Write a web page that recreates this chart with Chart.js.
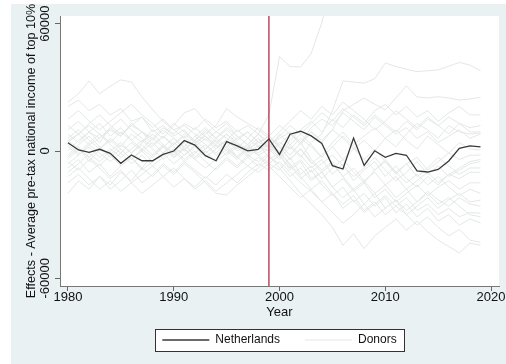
<!DOCTYPE html>
<html>
<head>
<meta charset="utf-8">
<script src="https://cdn.jsdelivr.net/npm/chart.js@4/dist/chart.umd.min.js"></script>
<style>
  html, body { margin: 0; padding: 0; background: #ffffff; }
  #wrap { width: 506px; height: 364px; position: relative; background: #ffffff; }
  #graphRegion { position: absolute; left: 11px; top: 4px; right: 0; bottom: 0; background: #e9f1f3; }
  #c { position: absolute; left: 0; top: 0; }
</style>
</head>
<body>
<div id="wrap"><div id="graphRegion"></div><canvas id="c" width="506" height="364"></canvas></div>
<script>
// Years on the horizontal axis
const years = [
  1980, 1981, 1982, 1983, 1984, 1985, 1986, 1987, 1988, 1989,
  1990, 1991, 1992, 1993, 1994, 1995, 1996, 1997, 1998, 1999,
  2000, 2001, 2002, 2003, 2004, 2005, 2006, 2007, 2008, 2009,
  2010, 2011, 2012, 2013, 2014, 2015, 2016, 2017, 2018, 2019
];
const xTickValues = [1980, 1990, 2000, 2010, 2020];
const yTickValues = [-60000, 0, 60000];
const treatYear = 1999;
const yMin = -63600;
const yMax = 63600;

// Estimated effect for the treated unit
const netherlands = [
  3900, 500, -600, 800, -1100, -5800, -1900, -4600, -4600, -1600,
  0, 4900, 2800, -2200, -4600, 4400, 2400, 100, 800, 5700,
  -1600, 7900, 9300, 7100, 3600, -6900, -8500, 6100, -6800, 100,
  -3000, -1100, -2000, -9400, -9900, -8700, -4700, 1300, 2400, 1900
];

// Placebo effects for the donor pool
const d1 = [
  23000, 27000, 33000, 27000, 30500, 33500, 32500, 25500, 19500, 14000,
  10000, 12000, 8000, 5000, 9000, 6000, 3000, 1000, 4000, 2000,
  6000, 9000, 4000, 11000, 15000, 12000, 18000, 14000, 10000, 16000,
  12000, 8000, 11000, 6000, 9000, 4000, 7000, 10000, 6000, 8000
];
const d2 = [
  21000, 24000, 19000, 22000, 17000, 20000, 14000, 16000, 9000, 12000,
  7000, 10000, 4000, 7000, 2000, 5000, 0, 3000, -2000, 1000,
  -4000, 2000, -3000, 4000, 8000, 19000, 33000, 32500, 32000, 34000,
  41500, 39800, 38500, 37400, 37800, 38200, 40000, 41700, 40500, 37800
];
const d3 = [
  5000, 8000, 3000, 6000, 10000, 7000, 12000, 9000, 6000, 11000,
  8000, 13000, 10000, 15000, 11000, 14000, 9000, 12000, 8000, 17000,
  44500, 39800, 39600, 46000, 60500, 80000, 95000, 108000, 120000, 130000,
  140000, 150000, 155000, 160000, 165000, 170000, 175000, 180000, 185000, 190000
];
const d4 = [
  -4000, 1000, -3000, -7000, -2000, 3000, -1000, 4000, 8000, 3000,
  -2000, 2000, 7000, 11000, 6000, 10000, 5000, 9000, 4000, 7000,
  3000, 8000, 4000, 9000, 5000, 10000, 19000, 22000, 25000, 22000,
  19400, 25000, 30700, 25500, 25000, 25600, 25000, 24000, 24500, 25300
];
const d5 = [
  -3000, 2000, -5000, 1000, 6000, 2000, 8000, 4000, 10000, 6000,
  12000, 18000, 20000, 14000, 9000, 13000, 7000, 3000, 8000, 2000,
  -3000, 5000, 10000, 14000, 9000, 15000, 11000, 17000, 13000, 19000,
  22000, 17000, 21000, 16000, 19000, 14000, 18000, 21000, 17000, 17000
];
const d6 = [
  8000, 4000, 9000, 13000, 7000, 11000, 5000, 9000, 3000, 7000,
  2000, -2000, 3000, 8000, 12000, 20000, 16000, 13000, 10000, 6000,
  2000, -4000, 1000, -6000, -2000, 4000, 9000, 3000, 7000, 11000,
  6000, 2000, 8000, 13000, 10000, 6000, 12000, 9000, 8000, 8500
];
const d7 = [
  -8000, -4000, -10000, -6000, -12000, -7000, -3000, -8000, -2000, 3000,
  -1000, 4000, -3000, 1000, 5000, 0, -4000, 1000, -2000, -6000,
  -9000, -3000, -11000, -7000, -13000, -8000, -4000, -10000, -15000, -9000,
  -5000, -11000, -6000, -3000, -9000, -5000, -1000, -4000, -2000, -1900
];
const d8 = [
  0, 5000, 9000, 4000, 11000, 7000, 13000, 9000, 5000, 10000,
  6000, 2000, 7000, 3000, -1000, 4000, -3000, 2000, 6000, 1000,
  8000, 3000, -2000, -8000, -4000, -11000, -6000, -14000, -9000, -5000,
  -12000, -7000, -13000, -17000, -12000, -16000, -11000, -8000, -5000, -4000
];
const d9 = [
  -15000, -11000, -16000, -12000, -18000, -14000, -9000, -15000, -11000, -6000,
  -10000, -5000, -9000, -13000, -8000, -3000, -7000, -2000, -5000, -1000,
  3000, -2000, 4000, -4000, -9000, -5000, -12000, -8000, -14000, -10000,
  -16000, -12000, -18000, -14000, -10000, -15000, -11000, -13000, -10000, -10000
];
const d10 = [
  5000, 1000, -3000, 2000, -2000, -7000, -3000, -9000, -5000, -1000,
  -6000, -2000, 2000, -3000, 1000, 5000, 1000, 6000, 2000, 4000,
  -2000, -9000, -5000, -13000, -10000, -17000, -13000, -19000, -15000, -22000,
  -18000, -24000, -20000, -16000, -21000, -17000, -14000, -18000, -15000, -15000
];
const d11 = [
  2000, -2000, 3000, -1000, -5000, -1000, -6000, -2000, -7000, -3000,
  1000, -4000, 0, -5000, -9000, -4000, -8000, -3000, -7000, -2000,
  -8000, -14000, -20000, -25000, -30000, -36000, -44400, -39000, -46000, -40000,
  -36000, -32000, -37300, -33000, -38000, -42000, -45000, -48000, -43400, -44400
];
const d12 = [
  -20000, -14000, -18000, -12000, -16000, -10000, -14000, -8000, -12000, -7000,
  -11000, -6000, -10000, -15000, -20000, -20700, -16000, -12000, -8000, -4000,
  -1000, -6000, -12000, -18000, -14000, -20000, -25000, -21000, -28000, -24000,
  -30000, -26000, -22000, -28000, -25000, -30000, -27000, -31000, -29000, -29300
];
const d13 = [
  10000, 14000, 9000, 6000, 11000, 15000, 10000, 6000, 2000, 7000,
  3000, 8000, 4000, -1000, 3000, -2000, 2000, -3000, 1000, 3000,
  0, -7000, -13000, -9000, -16000, -21000, -17000, -24000, -20000, -26000,
  -22000, -29000, -25000, -31000, -27000, -33000, -30000, -35000, -32000, -33800
];
const d14 = [
  -5000, -9000, -4000, -8000, -13000, -9000, -15000, -11000, -7000, -12000,
  -8000, -13000, -17000, -12000, -16000, -11000, -15000, -10000, -6000, -9000,
  -5000, -10000, -15000, -19000, -24000, -20000, -27000, -23000, -29000, -25000,
  -21000, -26000, -30000, -26000, -22000, -27000, -23000, -20000, -24000, -23100
];
const d15 = [
  4000, 8000, 12000, 8000, 4000, 9000, 5000, 1000, 6000, 2000,
  -3000, 1000, -4000, 0, -5000, -1000, 3000, -2000, 2000, 0,
  4000, 1000, 6000, 2000, -3000, 2000, -4000, 1000, 5000, 0,
  6000, 10000, 5000, 1000, 7000, 3000, -1000, 4000, 1000, 500
];
const d16 = [
  -10000, -6000, -1000, -5000, 0, 4000, -1000, 3000, -2000, 2000,
  6000, 1000, 5000, 9000, 4000, 8000, 3000, -1000, 3000, -3000,
  -6000, -12000, -8000, -14000, -10000, -17000, -22000, -18000, -25000, -20000,
  -27000, -23000, -30000, -35000, -31000, -36000, -40000, -37000, -42000, -43000
];
const d17 = [
  12000, 8000, 13000, 17000, 12000, 8000, 12000, 16000, 11000, 15000,
  10000, 6000, 11000, 7000, 3000, 8000, 4000, 0, 5000, 2000,
  7000, 12000, 8000, 13000, 18000, 14000, 20000, 16000, 12000, 17000,
  13000, 9000, 14000, 10000, 15000, 12000, 8000, 13000, 11000, 12000
];
const d18 = [
  -12000, -8000, -13000, -18000, -14000, -19000, -15000, -20000, -16000, -12000,
  -17000, -13000, -18000, -14000, -19000, -15000, -11000, -7000, -10000, -6000,
  -2000, -8000, -4000, -10000, -6000, -2000, -7000, -12000, -8000, -3000,
  -9000, -14000, -10000, -5000, -11000, -7000, -12000, -9000, -6000, -5000
];
const d19 = [
  3000, -1000, 4000, 8000, 3000, -1000, 4000, 0, 4000, -1000,
  3000, 7000, 2000, 6000, 1000, 5000, 10000, 6000, 11000, 7000,
  12000, 8000, 3000, 9000, 4000, 10000, 6000, 1000, -4000, 1000,
  -5000, -10000, -6000, -12000, -8000, -3000, -7000, -11000, -8000, -8000
];
const d20 = [
  -6000, -2000, 2000, -3000, 1000, -3000, 1000, 5000, 1000, -4000,
  0, -5000, -1000, 3000, -2000, 2000, -3000, -7000, -3000, -7000,
  -12000, -17000, -22000, -18000, -24000, -29000, -34000, -30000, -25000, -31000,
  -27000, -23000, -28000, -24000, -20000, -25000, -22000, -26000, -30000, -31000
];
const d21 = [
  6000, 10000, 5000, 1000, 5000, 1000, -4000, 0, -5000, -1000,
  4000, 0, 5000, 1000, 6000, 11000, 7000, 3000, 8000, 4000,
  9000, 14000, 19000, 15000, 21000, 17000, 23000, 19000, 15000, 10000,
  14000, 19000, 15000, 11000, 16000, 12000, 16000, 13000, 9000, 9000
];
const d22 = [
  -2000, 3000, 7000, 2000, -3000, 1000, -4000, 1000, -3000, 2000,
  -3000, 1000, -4000, -8000, -4000, 1000, -3000, 2000, -1000, 3000,
  -2000, 3000, 8000, 3000, -3000, 2000, 7000, 2000, -4000, -9000,
  -4000, -10000, -15000, -11000, -16000, -12000, -17000, -21000, -18000, -20000
];
const d23 = [
  15000, 19000, 14000, 10000, 14000, 18000, 22000, 17000, 13000, 8000,
  13000, 9000, 5000, 10000, 6000, 2000, 6000, 9000, 4000, 7000,
  2000, -4000, 1000, -5000, -10000, -6000, -12000, -18000, -14000, -20000,
  -16000, -22000, -18000, -24000, -19000, -23000, -26000, -22000, -25000, -26000
];
const donors = [d1, d2, d3, d4, d5, d6, d7, d8, d9, d10, d11, d12,
                d13, d14, d15, d16, d17, d18, d19, d20, d21, d22, d23];

const toPoints = vals => years.map((yr, i) => ({ x: yr, y: vals[i] }));

Chart.defaults.font.family = "'Liberation Sans', Arial, Helvetica, sans-serif";
Chart.defaults.color = '#111';

const datasets = [
  { label: 'Netherlands', data: toPoints(netherlands), borderColor: '#383838',
    borderWidth: 1.3, pointRadius: 0, tension: 0 },
  { label: 'Treatment', data: [{ x: treatYear, y: yMin }, { x: treatYear, y: yMax }],
    borderColor: '#b01a3a', borderWidth: 1.2, pointRadius: 0 },
  ...donors.map(d => ({ label: 'Donors', data: toPoints(d), borderColor: '#e5e8e8',
    borderWidth: 1, pointRadius: 0, tension: 0 }))
];

// White plot region and the framed legend over the tinted graph region
const framePlugin = {
  id: 'frame',
  beforeDraw(chart) {
    const ctx = chart.ctx;
    const ca = chart.chartArea;
    ctx.save();
    ctx.fillStyle = '#ffffff';
    ctx.fillRect(ca.left, ca.top, ca.right - ca.left, ca.bottom - ca.top);
    const hb = chart.legend && chart.legend.legendHitBoxes;
    if (hb && hb.length) {
      const first = hb[0], last = hb[hb.length - 1];
      const l = Math.round(first.left - 7) + 0.5;
      const r = Math.round(last.left + last.width + 7) + 0.5;
      const t = Math.round(first.top - 5) + 0.5;
      const b = Math.round(first.top + first.height + 5) + 0.5;
      ctx.fillRect(l, t, r - l, b - t);
      ctx.strokeStyle = '#333';
      ctx.lineWidth = 1;
      ctx.strokeRect(l, t, r - l, b - t);
    }
    ctx.restore();
  }
};

new Chart(document.getElementById('c'), {
  type: 'line',
  data: { datasets },
  options: {
    responsive: false,
    animation: false,
    devicePixelRatio: 1,
    layout: { padding: { left: 24, top: 16, right: 7, bottom: 8 } },
    plugins: {
      tooltip: { enabled: false },
      legend: {
        position: 'bottom',
        fullSize: false,
        labels: {
          usePointStyle: true,
          pointStyle: 'line',
          pointStyleWidth: 47,
          padding: 25,
          color: '#111',
          font: { size: 12 },
          filter: item => item.datasetIndex === 0 || item.datasetIndex === 2
        }
      }
    },
    scales: {
      x: {
        type: 'linear',
        min: 1979.25,
        max: 2020.75,
        afterBuildTicks: s => { s.ticks = xTickValues.map(v => ({ value: v })); },
        afterFit: s => { s.height = 23; },
        ticks: { callback: v => String(v), color: '#111', font: { size: 13 },
                 padding: -1, maxRotation: 0, autoSkip: false },
        grid: { display: true, drawOnChartArea: false, drawTicks: true,
                tickLength: 5, tickColor: '#666', tickWidth: 1 },
        border: { display: true, color: '#777', width: 1 },
        title: { display: true, text: 'Year', color: '#111', font: { size: 13 },
                 padding: { top: 0, bottom: -11.5 } }
      },
      y: {
        min: yMin,
        max: yMax,
        afterBuildTicks: s => { s.ticks = yTickValues.map(v => ({ value: v })); },
        afterFit: s => { s.width = 36; },
        ticks: { callback: v => String(v), color: '#111', font: { size: 13 },
                 minRotation: 90, maxRotation: 90, crossAlign: 'center',
                 padding: -11, autoSkip: false },
        grid: { display: true, drawOnChartArea: false, drawTicks: true,
                tickLength: 5, tickColor: '#666', tickWidth: 1 },
        border: { display: true, color: '#777', width: 1 },
        title: { display: true, text: 'Effects - Average pre-tax national income of top 10%',
                 color: '#111', font: { size: 12.6 }, padding: 0 }
      }
    }
  },
  plugins: [framePlugin]
});
</script>
</body>
</html>
